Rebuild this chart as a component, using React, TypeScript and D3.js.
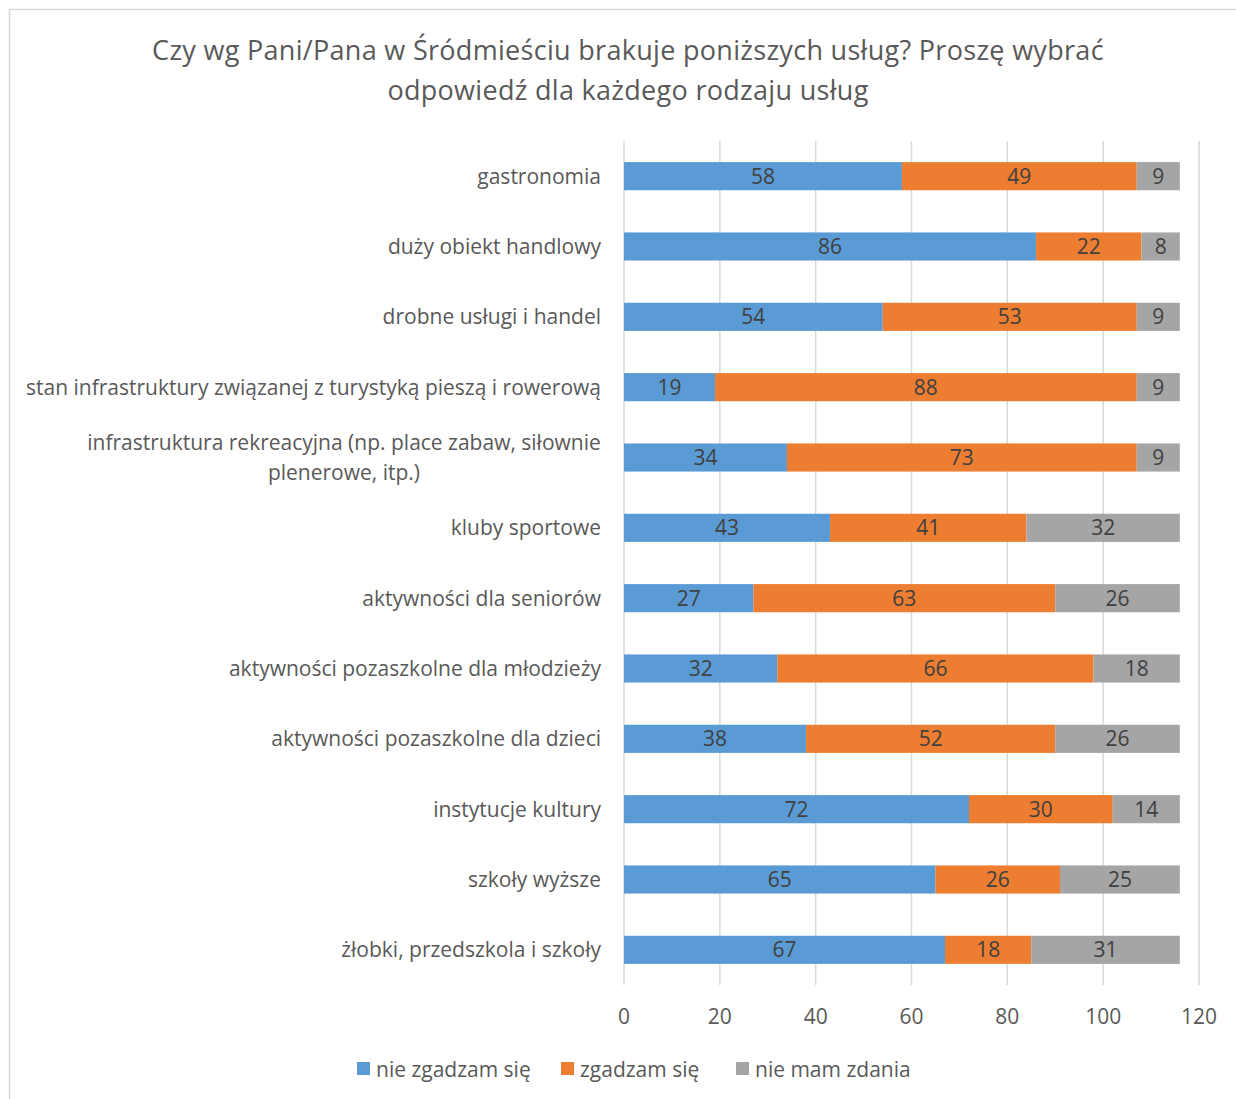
import React from "react";
import * as d3 from "d3";

const categories = [
  "gastronomia",
  "duży obiekt handlowy",
  "drobne usługi i handel",
  "stan infrastruktury związanej z turystyką pieszą i rowerową",
  "infrastruktura rekreacyjna (np. place zabaw, siłownie|plenerowe, itp.)",
  "kluby sportowe",
  "aktywności dla seniorów",
  "aktywności pozaszkolne dla młodzieży",
  "aktywności pozaszkolne dla dzieci",
  "instytucje kultury",
  "szkoły wyższe",
  "żłobki, przedszkola i szkoły",
];
const nieZgadzam = [58, 86, 54, 19, 34, 43, 27, 32, 38, 72, 65, 67];
const zgadzam = [49, 22, 53, 88, 73, 41, 63, 66, 52, 30, 26, 18];
const nieMam = [9, 8, 9, 9, 9, 32, 26, 18, 26, 14, 25, 31];
const seriesNames = ["nie zgadzam się", "zgadzam się", "nie mam zdania"];
const seriesColors = ["#5B9BD5", "#ED7D31", "#A5A5A5"];
const xTicks = [0, 20, 40, 60, 80, 100, 120];
const titleLines = [
  "Czy wg Pani/Pana w Śródmieściu brakuje poniższych usług? Proszę wybrać",
  "odpowiedź dla każdego rodzaju usług",
];

const FONT = "'Open Sans', sans-serif";
const FS = 21;

export default function App() {
  const W = 1236, H = 1099;
  const left = 624, right = 1199, top = 141, bottom = 985;
  const x = d3.scaleLinear().domain([0, 120]).range([left, right]);
  const y = d3.scaleBand<number>().domain(categories.map((_, i) => i)).range([top, bottom]).paddingInner(0.6).paddingOuter(0.3);
  const data = categories.map((c, i) => ({ c, vals: [nieZgadzam[i], zgadzam[i], nieMam[i]] }));
  const stack = d3.stack<any>().keys(["0", "1", "2"]).value((d, k) => d.vals[+k]);
  const stacked = stack(data);
  const legendX = [357, 561, 736];
  const off = 7.5;

  return (
    <svg width={W} height={H} style={{ position: "absolute", left: 0, top: 0 }} fontFamily={FONT}>
      <rect x={0} y={0} width={W} height={H} fill="#fff" />
      <rect x={9.5} y={9.5} width={1250} height={1110} fill="none" stroke="#D9D9D9" strokeWidth={1.5} />
      {titleLines.map((t, i) => (
        <text key={i} x={628} y={59.5 + i * 40} textAnchor="middle" fontSize={27} letterSpacing={0.3} fill="#595959">{t}</text>
      ))}
      {xTicks.map((t) => (
        <g key={t}>
          <line x1={x(t)} x2={x(t)} y1={top} y2={bottom} stroke="#D9D9D9" strokeWidth={1.5} />
          <text x={x(t)} y={1016 + off} textAnchor="middle" fontSize={FS} fill="#595959">{t}</text>
        </g>
      ))}
      {stacked.map((s, si) => (
        <g key={si}>
          {s.map((d, i) => {
            const x0 = x(d[0]), x1 = x(d[1]);
            const yy = y(i)!;
            const bh = y.bandwidth();
            return (
              <g key={i}>
                <rect x={x0} y={yy} width={x1 - x0} height={bh} fill={seriesColors[si]} />
                <text x={(x0 + x1) / 2} y={yy + bh / 2 + off} textAnchor="middle" fontSize={FS} fill="#404040">{d[1] - d[0]}</text>
              </g>
            );
          })}
        </g>
      ))}
      {categories.map((c, i) => {
        const cy = y(i)! + y.bandwidth() / 2;
        const lines = c.split("|");
        if (lines.length === 1) {
          return <text key={i} x={601} y={cy + off} textAnchor="end" fontSize={FS} fill="#595959">{c}</text>;
        }
        const centerX = 344;
        return (
          <g key={i}>
            {lines.map((l, j) => (
              <text key={j} x={centerX} y={cy + off + (j - (lines.length - 1) / 2) * 30} textAnchor="middle" fontSize={FS} fill="#595959">{l}</text>
            ))}
          </g>
        );
      })}
      {seriesNames.map((n, i) => (
        <g key={n}>
          <rect x={legendX[i]} y={1062} width={13} height={13} fill={seriesColors[i]} />
          <text x={legendX[i] + 19} y={1069 + off} fontSize={FS} fill="#595959">{n}</text>
        </g>
      ))}
    </svg>
  );
}
